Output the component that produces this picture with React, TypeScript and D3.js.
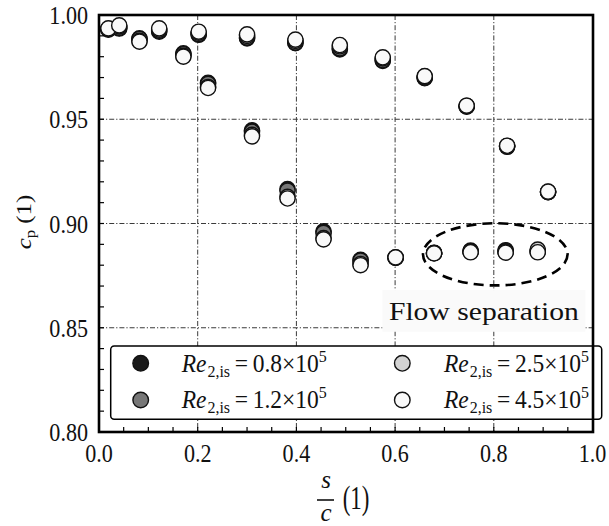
import React from 'react';
import * as d3 from 'd3';

// s/c positions of the pressure taps
const sc = [0.019, 0.041, 0.082, 0.122, 0.171, 0.202, 0.221, 0.300, 0.310, 0.382, 0.398, 0.455, 0.488, 0.530, 0.575, 0.601, 0.660, 0.679, 0.745, 0.753, 0.824, 0.827, 0.889, 0.910];
const cpRe08 = [0.9930, 0.9935, 0.9888, 0.9920, 0.9816, 0.9905, 0.9675, 0.9888, 0.9447, 0.9165, 0.9865, 0.8962, 0.9835, 0.8826, 0.9780, 0.8835, 0.9697, 0.8860, 0.9560, 0.8870, 0.8872, 0.9368, 0.8870, 0.9150];
const cpRe12 = [0.9932, 0.9938, 0.9885, 0.9924, 0.9812, 0.9908, 0.9670, 0.9892, 0.9440, 0.9158, 0.9868, 0.8955, 0.9840, 0.8822, 0.9783, 0.8836, 0.9700, 0.8858, 0.9562, 0.8867, 0.8868, 0.9370, 0.8866, 0.9150];
const cpRe25 = [0.9934, 0.9945, 0.9876, 0.9930, 0.9804, 0.9915, 0.9655, 0.9900, 0.9425, 0.9128, 0.9876, 0.8930, 0.9850, 0.8806, 0.9792, 0.8837, 0.9705, 0.8858, 0.9564, 0.8865, 0.8864, 0.9372, 0.8875, 0.9152];
const cpRe45 = [0.9936, 0.9950, 0.9872, 0.9936, 0.9800, 0.9920, 0.9650, 0.9907, 0.9418, 0.9120, 0.9882, 0.8924, 0.9856, 0.8800, 0.9797, 0.8838, 0.9707, 0.8857, 0.9565, 0.8862, 0.8860, 0.9373, 0.8862, 0.9153];
const reLabels = ['0.8', '1.2', '2.5', '4.5'];
const seriesColors = ['#1a1a1a', '#777777', '#d3d3d3', '#f9f9f9'];
const xTicks = [0, 0.2, 0.4, 0.6, 0.8, 1.0];
const yTicks = [0.80, 0.85, 0.90, 0.95, 1.00];
const xGrid = [0.2, 0.4, 0.6, 0.8];
const yGrid = [0.85, 0.90, 0.95];
const xMinor = d3.range(1, 20).map(i => i * 0.05);
const yMinor = d3.range(1, 20).map(i => 0.8 + i * 0.01);
// annotation ellipse (data units): center and semi-axes
const sepCenter = [0.803, 0.8852];
const sepSemi = [0.1465, 0.0149];
const sepText = 'Flow separation';
const sepTextPos = [0.78, 0.8537];

const FONT = "'Liberation Serif', 'Times New Roman', 'DejaVu Serif', serif";
const SX = 0.85;

export default function App() {
  const W = 609, H = 526;
  const L = 99, R = 593, T = 15, B = 432;
  const x = d3.scaleLinear().domain([0, 1]).range([L, 592.5]);
  const y = d3.scaleLinear().domain([0.8, 1.0]).range([B, T]);
  const series = [cpRe08, cpRe12, cpRe25, cpRe45];
  const gridStyle = { stroke: '#3a3a3a', strokeWidth: 1, strokeDasharray: '5,2,1.2,2' };

  const legendItems = reLabels.map((lab, i) => ({
    lab,
    color: seriesColors[i],
    col: i < 2 ? 0 : 1,
    row: i % 2,
  }));
  const legX0 = 110.7, legY0 = 346, legW = 491, legH = 73.3;
  const colMarker = [140.7, 402.3];
  const colText = [181.7, 444];
  const rowY = [363.3, 400];

  const sepCx = x(sepCenter[0]);
  const sepCy = y(sepCenter[1]);
  const sepRx = x(sepCenter[0] + sepSemi[0]) - sepCx;
  const sepRy = sepCy - y(sepCenter[1] + sepSemi[1]);
  const stx = x(sepTextPos[0]);
  const sty = y(sepTextPos[1]);

  return (
    <svg width={W} height={H} style={{ position: 'absolute', left: 0, top: 0, background: '#fff', fontFamily: FONT }}>
      <rect x={0} y={0} width={W} height={H} fill="#fff" />
      {/* grid */}
      {xGrid.map(v => (
        <line key={'gx' + v} x1={x(v)} x2={x(v)} y1={T} y2={B} {...gridStyle} />
      ))}
      {yGrid.map(v => (
        <line key={'gy' + v} x1={L} x2={R} y1={y(v)} y2={y(v)} {...gridStyle} />
      ))}
      {/* markers */}
      {series.map((s, si) => (
        <g key={'s' + si}>
          {s.map((v, i) => (
            <circle key={i} cx={x(sc[i])} cy={y(v)} r={7.6} fill={seriesColors[si]} stroke="#111" strokeWidth={1.4} />
          ))}
        </g>
      ))}
      {/* flow separation annotation */}
      <ellipse cx={sepCx} cy={sepCy} rx={sepRx} ry={sepRy} fill="none" stroke="#000" strokeWidth={2.6} strokeDasharray="10,6" />
      <rect x={stx - 101.5} y={sty - 30} width={203} height={41.7} fill="#fafafa" />
      <text x={stx} y={sty} textAnchor="middle" fontSize={26} textLength={190} lengthAdjust="spacingAndGlyphs" fill="#111">{sepText}</text>
      {/* legend */}
      <rect x={legX0} y={legY0} width={legW} height={legH} rx={3.5} fill="#fff" stroke="#000" strokeWidth={1.5} />
      {legendItems.map((it, i) => (
        <g key={'l' + i}>
          <circle cx={colMarker[it.col]} cy={rowY[it.row]} r={7.8} fill={it.color} stroke="#111" strokeWidth={1.4} />
          <g transform={`translate(${colText[it.col]},${rowY[it.row] + 8.4}) scale(0.94,1)`}>
            <text x={0} y={0} fontSize={25} fill="#111">
              <tspan fontStyle="italic">Re</tspan>
              <tspan fontSize={17} dy={5} dx={1}>2,is</tspan>
              <tspan dy={-5} dx={5}>=</tspan>
              <tspan dx={5}>{it.lab}×10</tspan>
              <tspan fontSize={17} dy={-10}>5</tspan>
            </text>
          </g>
        </g>
      ))}
      {/* minor ticks */}
      {yMinor.map((v, i) => (
        <line key={'ym' + i} x1={L} x2={L + 5} y1={y(v)} y2={y(v)} stroke="#000" strokeWidth={1.2} />
      ))}
      {xMinor.map((v, i) => (
        <line key={'xm' + i} x1={x(v)} x2={x(v)} y1={B} y2={B - 5} stroke="#000" strokeWidth={1.2} />
      ))}
      {/* spines */}
      <rect x={L} y={T} width={R - L} height={B - T} fill="none" stroke="#000" strokeWidth={2.6} />
      {/* tick labels */}
      {yTicks.map(v => (
        <g key={'yl' + v} transform={`translate(88,${y(v) + 9}) scale(${SX},1)`}>
          <text x={0} y={0} textAnchor="end" fontSize={26} fill="#111">{d3.format('.2f')(v)}</text>
        </g>
      ))}
      {xTicks.map(v => (
        <g key={'xl' + v} transform={`translate(${x(v)},461.5) scale(${SX},1)`}>
          <text x={0} y={0} textAnchor="middle" fontSize={26} fill="#111">{d3.format('.1f')(v)}</text>
        </g>
      ))}
      {/* y label */}
      <g transform="translate(31,222) rotate(-90) scale(1,0.84)">
        <text x={0} y={0} textAnchor="middle" fontSize={25} fill="#111">
          <tspan fontStyle="italic">c</tspan>
          <tspan fontSize={17} dy={5}>p</tspan>
          <tspan dy={-5} dx={6}>(1)</tspan>
        </text>
      </g>
      {/* x label */}
      <g fill="#111">
        <text x={326} y={488} textAnchor="middle" fontSize={25} fontStyle="italic">s</text>
        <line x1={317} x2={334} y1={500} y2={500} stroke="#111" strokeWidth={1.6} />
        <text x={326} y={521} textAnchor="middle" fontSize={25} fontStyle="italic">c</text>
        <g transform="translate(356,509) scale(0.85,1.25)">
          <text x={0} y={0} textAnchor="middle" fontSize={27}>(1)</text>
        </g>
      </g>
    </svg>
  );
}
